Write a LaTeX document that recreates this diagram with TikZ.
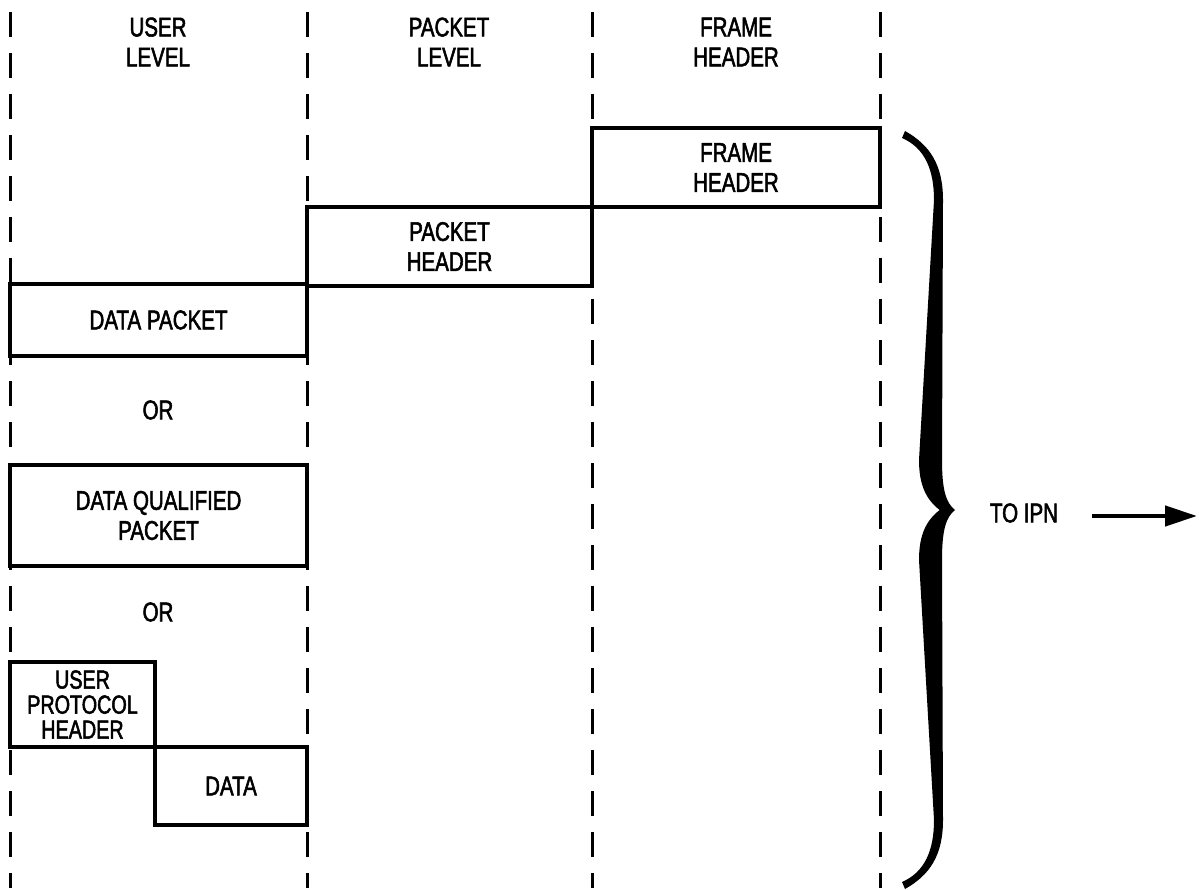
\documentclass[tikz,border=0pt]{standalone}
\usepackage{fontspec}
\setmainfont{Liberation Sans}[FakeStretch=0.76, FakeBold=2]
\usetikzlibrary{arrows.meta}

\begin{document}
\begin{tikzpicture}[
  x=1pt, y=-1pt,
  font=\fontsize{27}{30}\selectfont,
  lane/.style={line width=3pt, dash pattern=on 25pt off 16pt},
  pbox/.style={rectangle, draw, line width=3.8pt, align=center, inner sep=0pt, outer sep=0pt},
  hdr/.style={align=center},
  toarrow/.style={-{Triangle[length=32pt, width=20pt]}, line width=4.5pt},
]
\useasboundingbox (0,0) rectangle (1199,890);

% ---------- the three level lanes
\foreach \x/\n in {10/a,307/b,592/c,880/d} {
  \coordinate (lane\n-top) at (\x,12);
  \coordinate (lane\n-bot) at (\x,888);
  \draw[lane] (lane\n-top) -- (lane\n-bot);
}
\node[hdr] (huser)   at (158,42) {USER\\LEVEL};
\node[hdr] (hpacket) at (449,42) {PACKET\\LEVEL};
\node[hdr] (hframe)  at (736,42) {FRAME\\HEADER};

% ---------- headers, stepping down
\node[pbox, minimum width=288pt, minimum height=79pt] (frame)  at (736,167.5) {FRAME\\HEADER};
\node[pbox, minimum width=285pt, minimum height=79pt] (packet) at (449.5,246.5) {PACKET\\HEADER};

% ---------- user level alternatives
\node[pbox, minimum width=297pt, minimum height=72pt] (dpacket) at (158.5,320) {DATA PACKET};
\node (or1) at (158,410) {OR};
\node[pbox, minimum width=297pt, minimum height=101pt] (dqpacket) at (158.5,515.5) {DATA QUALIFIED\\PACKET};
\node (or2) at (158,612) {OR};
\node[pbox, minimum width=145pt, minimum height=85pt, font=\fontsize{26}{25}\selectfont] (uph) at (82.5,704.5) {USER\\PROTOCOL\\HEADER};
\node[pbox, minimum width=152pt, minimum height=78pt, anchor=north west] (udata) at (uph.south east) {DATA};

% ---------- brace and output
\fill (905,131) .. controls (930,145) and (943,165) .. (943,200) -- (942,460)
  .. controls (942,490) and (946,503) .. (955,510) -- (941,511)
  .. controls (926,500) and (919,485) .. (919,460) -- (934,200)
  .. controls (934,170) and (925,148) .. (902,138) -- cycle;
\fill (905,889) .. controls (930,875) and (943,855) .. (943,820) -- (942,560)
  .. controls (942,530) and (946,517) .. (955,510) -- (941,509)
  .. controls (926,520) and (919,535) .. (919,560) -- (934,820)
  .. controls (934,850) and (925,872) .. (902,882) -- cycle;
\node (toipn) at (1024,513) {TO IPN};
\coordinate (outs) at (1092,516);
\coordinate (oute) at (1197,516);
\draw[toarrow] (outs) -- (oute);
\end{tikzpicture}
\end{document}
